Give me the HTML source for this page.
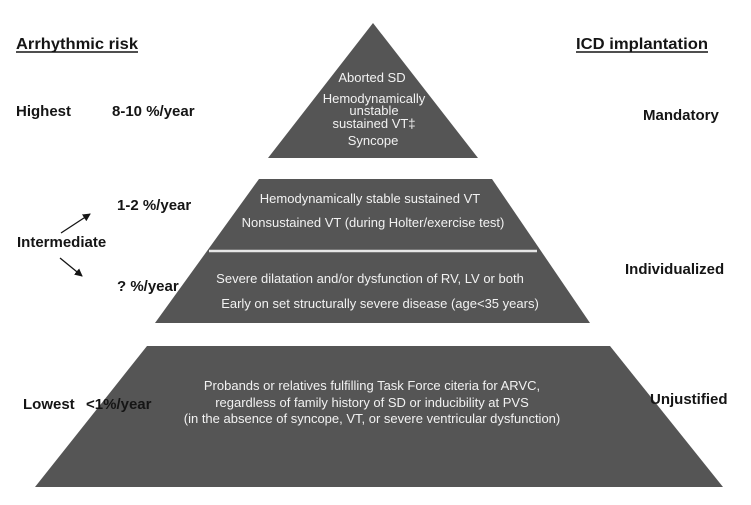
<!DOCTYPE html>
<html>
<head>
<meta charset="utf-8">
<style>
  html, body { margin: 0; padding: 0; background: #ffffff; }
  body { width: 751px; height: 505px; overflow: hidden; }
  svg { display: block; }
  .lbl { font-family: "Liberation Sans", Arial, sans-serif; font-weight: bold; font-size: 15px; fill: #151515; }
  .hdr { font-family: "Liberation Sans", Arial, sans-serif; font-weight: bold; font-size: 16px; fill: #151515; }
  .in { font-family: "Liberation Sans", Arial, sans-serif; font-size: 13px; fill: #f2f2f2; }
</style>
</head>
<body>
<svg width="751" height="505" viewBox="0 0 751 505" xmlns="http://www.w3.org/2000/svg">
  <defs>
    <marker id="ah" markerWidth="8" markerHeight="8" refX="7" refY="4" orient="auto" markerUnits="userSpaceOnUse">
      <path d="M0,0 L8,4 L0,8 Z" fill="#151515"/>
    </marker>
  </defs>

  <!-- shapes -->
  <polygon points="373,23 478,158 268,158" fill="#555555"/>
  <polygon points="259,179 492,179 590,323 155,323" fill="#555555"/>
  <line x1="209" y1="251" x2="537" y2="251" stroke="#e6e6e6" stroke-width="2.5"/>
  <polygon points="147,346 610,346 723,487 35,487" fill="#555555"/>

  <!-- headers -->
  <text class="hdr" x="16" y="49" textLength="122" lengthAdjust="spacingAndGlyphs">Arrhythmic risk</text>
  <line x1="16" y1="52" x2="138" y2="52" stroke="#151515" stroke-width="1.5"/>
  <text class="hdr" x="576" y="49" textLength="132" lengthAdjust="spacingAndGlyphs">ICD implantation</text>
  <line x1="576" y1="52" x2="708" y2="52" stroke="#151515" stroke-width="1.5"/>

  <!-- left labels -->
  <text class="lbl" x="16" y="116">Highest</text>
  <text class="lbl" x="112" y="116">8-10 %/year</text>
  <text class="lbl" x="117" y="210">1-2 %/year</text>
  <text class="lbl" x="17" y="247">Intermediate</text>
  <text class="lbl" x="117" y="291">? %/year</text>
  <text class="lbl" x="23" y="409">Lowest</text>
  <text class="lbl" x="86" y="409">&lt;1%/year</text>

  <!-- arrows -->
  <line x1="61" y1="233" x2="90" y2="214" stroke="#151515" stroke-width="1.3" marker-end="url(#ah)"/>
  <line x1="60" y1="258" x2="82" y2="276" stroke="#151515" stroke-width="1.3" marker-end="url(#ah)"/>

  <!-- right labels -->
  <text class="lbl" x="643" y="120">Mandatory</text>
  <text class="lbl" x="625" y="274">Individualized</text>
  <text class="lbl" x="650" y="404">Unjustified</text>

  <!-- top triangle text -->
  <text class="in" x="372" y="82" text-anchor="middle">Aborted SD</text>
  <text class="in" x="374" y="103" text-anchor="middle">Hemodynamically</text>
  <text class="in" x="374" y="115" text-anchor="middle">unstable</text>
  <text class="in" x="374" y="128" text-anchor="middle">sustained VT‡</text>
  <text class="in" x="373" y="145" text-anchor="middle">Syncope</text>

  <!-- middle trapezoid text -->
  <text class="in" x="370" y="203" text-anchor="middle">Hemodynamically stable sustained VT</text>
  <text class="in" x="373" y="227" text-anchor="middle">Nonsustained VT (during Holter/exercise test)</text>
  <text class="in" x="370" y="283" text-anchor="middle">Severe dilatation and/or dysfunction of RV, LV or both</text>
  <text class="in" x="380" y="308" text-anchor="middle">Early on set structurally severe disease (age&lt;35 years)</text>

  <!-- bottom trapezoid text -->
  <text class="in" x="372" y="390" text-anchor="middle">Probands or relatives fulfilling Task Force citeria for ARVC,</text>
  <text class="in" x="372" y="407" text-anchor="middle">regardless of family history of SD or inducibility at PVS</text>
  <text class="in" x="372" y="423" text-anchor="middle">(in the absence of syncope, VT, or severe ventricular dysfunction)</text>
</svg>
</body>
</html>
